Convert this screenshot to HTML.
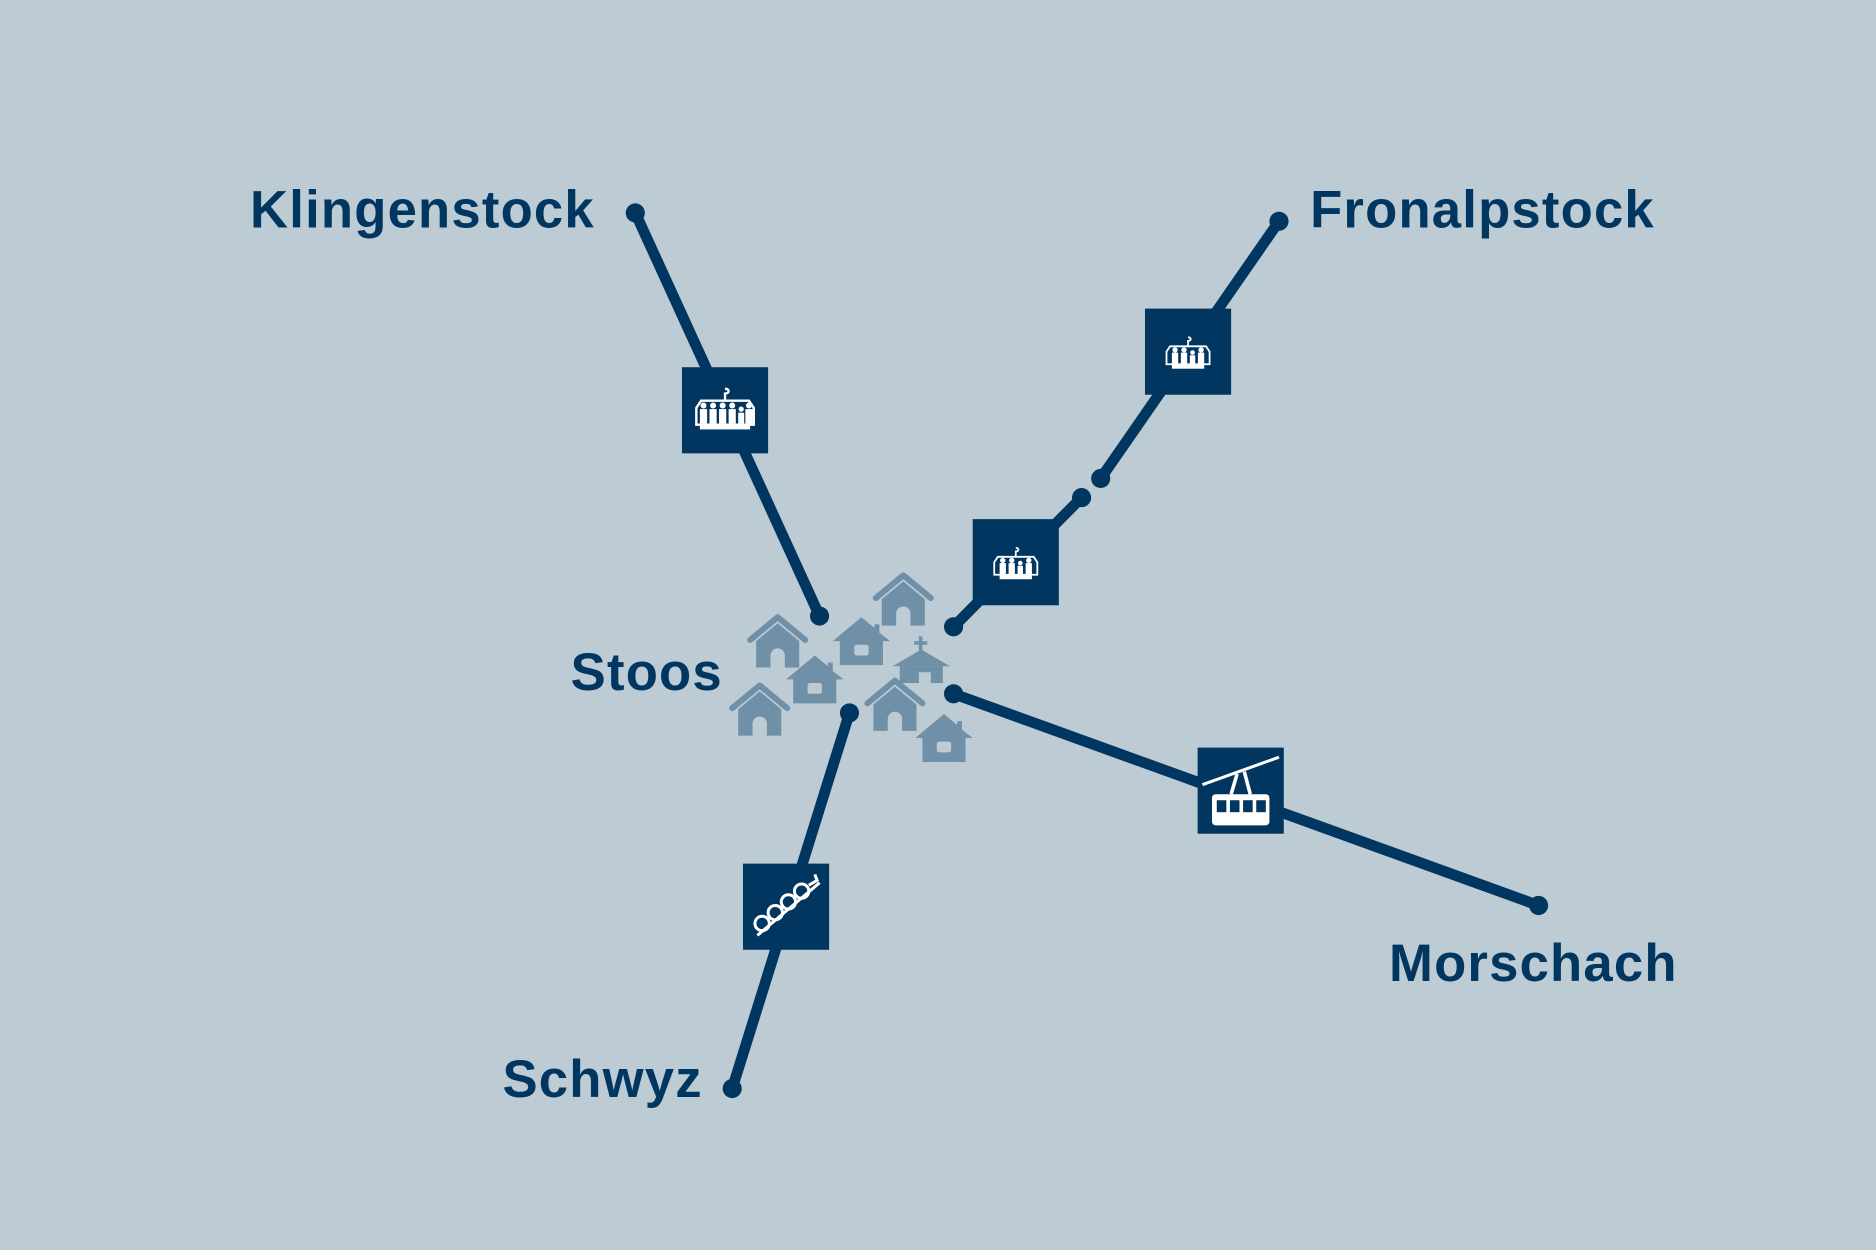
<!DOCTYPE html>
<html><head><style>html,body{margin:0;padding:0;background:#bccbd4}svg{display:block}</style></head>
<body>
<svg width="1876" height="1250" viewBox="0 0 1568 1045" preserveAspectRatio="none" xmlns="http://www.w3.org/2000/svg">
<defs>
<g id="h1">
<polyline points="-23,-3 0,-22 23,-3" fill="none" stroke="#7090a8" stroke-width="5" stroke-linecap="round" stroke-linejoin="round"/>
<path d="M-18,-2 L0,-17 L18,-2 L18,20 L6,20 L6,10 A6,6 0 0 0 -6,10 L-6,20 L-18,20 Z" fill="#7090a8"/>
</g>
<g id="h2">
<path d="M-24,0 L0,-20 L11,-11 L11,-14 L15,-14 L15,-7 L24,0 L18,0 L18,20 L-18,20 L-18,0 Z" fill="#7090a8"/>
<rect x="-6" y="3" width="12" height="9" rx="2" fill="#bccbd4"/>
</g>
<g id="ch">
<path d="M-24,-4 L-20,-10 L20,-10 L24,-4 L24,10 L-24,10 Z" fill="none" stroke="#fff" stroke-width="2"/>
<path d="M0,-10 L0,-16 C4,-16 4,-20 0,-20" fill="none" stroke="#fff" stroke-width="2"/>
</g>
</defs>
<rect width="1568" height="1045" fill="#bccbd4"/>
<g stroke="#003660" stroke-width="9" stroke-linecap="round">
<line x1="531" y1="178" x2="685" y2="515"/>
<line x1="1069" y1="185" x2="920" y2="400"/>
<line x1="904" y1="416" x2="797" y2="524"/>
<line x1="797" y1="580" x2="1286" y2="757"/>
<line x1="710" y1="596" x2="612" y2="910"/>
</g>
<g fill="#003660">
<circle cx="531" cy="178" r="8"/><circle cx="685" cy="515" r="8"/>
<circle cx="1069" cy="185" r="8"/><circle cx="920" cy="400" r="8"/>
<circle cx="904" cy="416" r="8"/><circle cx="797" cy="524" r="8"/>
<circle cx="797" cy="580" r="8"/><circle cx="1286" cy="757" r="8"/>
<circle cx="710" cy="596" r="8"/><circle cx="612" cy="910" r="8"/>
<rect x="570" y="307" width="72" height="72"/>
<rect x="957" y="258" width="72" height="72"/>
<rect x="813" y="434" width="72" height="72"/>
<rect x="1001" y="625" width="72" height="72"/>
<rect x="621" y="722" width="72" height="72"/>
</g>
<g transform="translate(606,345)" fill="#fff">
<use href="#ch"/>
<rect x="-21" y="-3" width="6" height="12"/><rect x="-13" y="-3" width="6" height="12"/><rect x="-5" y="-3" width="6" height="12"/><rect x="3" y="-3" width="6" height="12"/><rect x="11" y="0" width="5" height="9"/><rect x="17" y="-3" width="6" height="12"/>
<circle cx="-18" cy="-6" r="2.5"/><circle cx="-10" cy="-6" r="2.5"/><circle cx="-2" cy="-6" r="2.5"/><circle cx="6" cy="-6" r="2.5"/><circle cx="13.5" cy="-3" r="2.2"/><circle cx="20" cy="-6" r="2.5"/>
<rect x="-21" y="10" width="42" height="4"/>
</g>
<g transform="translate(993,297) scale(0.75)" fill="#fff">
<use href="#ch"/>
<rect x="-18" y="-3" width="7" height="13"/><rect x="-8" y="-3" width="7" height="13"/><rect x="2" y="0" width="6" height="10"/><rect x="11" y="-3" width="7" height="13"/>
<circle cx="-14.5" cy="-6" r="3"/><circle cx="-4.5" cy="-6" r="3"/><circle cx="5" cy="-3" r="2.6"/><circle cx="14.5" cy="-6" r="3"/>
<rect x="-18" y="10" width="36" height="5"/>
</g>
<g transform="translate(849,473) scale(0.75)" fill="#fff">
<use href="#ch"/>
<rect x="-18" y="-3" width="7" height="13"/><rect x="-8" y="-3" width="7" height="13"/><rect x="2" y="0" width="6" height="10"/><rect x="11" y="-3" width="7" height="13"/>
<circle cx="-14.5" cy="-6" r="3"/><circle cx="-4.5" cy="-6" r="3"/><circle cx="5" cy="-3" r="2.6"/><circle cx="14.5" cy="-6" r="3"/>
<rect x="-18" y="10" width="36" height="5"/>
</g>
<g transform="translate(1037,661)">
<line x1="-32" y1="-5" x2="32" y2="-28" stroke="#fff" stroke-width="2.5"/>
<path d="M-3,-14 L-8,3 M3,-16 L8,3" stroke="#fff" stroke-width="3"/>
<rect x="-24" y="3" width="48" height="26" rx="3" fill="#fff"/>
<g fill="#003660"><rect x="-20" y="8" width="8" height="10"/><rect x="-9" y="8" width="8" height="10"/><rect x="2" y="8" width="8" height="10"/><rect x="13" y="8" width="8" height="10"/></g>
</g>
<g transform="translate(657,758)" fill="none" stroke="#fff" stroke-width="2.5">
<line x1="-24" y1="24" x2="28" y2="-20"/>
<circle cx="-20" cy="14" r="6"/><circle cx="-9" cy="5" r="6"/><circle cx="2" cy="-4" r="6"/><circle cx="13" cy="-13" r="6"/>
<path d="M19,-18 L26,-22 L24,-27"/>
</g>
<use href="#h1" x="650" y="538"/>
<use href="#h1" x="755" y="503"/>
<use href="#h1" x="635" y="595"/>
<use href="#h1" x="748" y="591"/>
<use href="#h2" x="720" y="536"/>
<use href="#h2" x="681" y="568"/>
<use href="#h2" x="789" y="617"/>
<g fill="#7090a8">
<rect x="768" y="532" width="3" height="12"/><rect x="764" y="536" width="11" height="3"/>
<path d="M746,557 L770,543 L794,557 Z"/>
<path d="M752,557 L788,557 L788,571 L778,571 L778,562 L768,562 L768,571 L764,571 L764,562 L758,562 L758,571 L752,571 Z"/>
<rect x="758" y="557" width="6" height="14"/>
</g>
<g font-family="Liberation Sans, sans-serif" font-weight="bold" font-size="44" fill="#003660" letter-spacing="1">
<text x="209" y="190">Klingenstock</text>
<text x="1095" y="190">Fronalpstock</text>
<text x="477" y="577">Stoos</text>
<text x="1161" y="820">Morschach</text>
<text x="420" y="917">Schwyz</text>
</g>
</svg>
</body></html>
